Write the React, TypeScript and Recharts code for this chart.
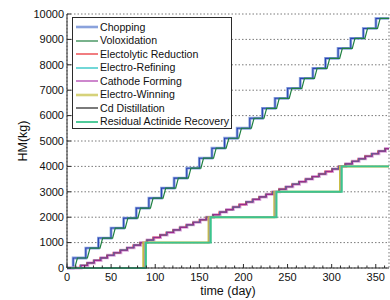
import { LineChart, Line, XAxis, YAxis, CartesianGrid, Legend } from 'recharts'

// batch times (day)
const chopDays = [7, 21.3, 35.6, 49.9, 64.2, 78.5, 92.8, 107.1, 121.4, 135.7, 150, 164.3, 178.6, 192.9, 207.2, 221.5, 235.8, 250.1, 264.4, 278.7, 293, 307.3, 321.6, 335.9, 350.2]
const voloxStartDays = [8.8, 23.1, 37.4, 51.7, 66, 80.3, 94.6, 108.9, 123.2, 137.5, 151.8, 166.1, 180.4, 194.7, 209, 223.3, 237.6, 251.9, 266.2, 280.5, 294.8, 309.1, 323.4, 337.7, 352]
const voloxEndDays = [11.8, 26.1, 40.4, 54.7, 69, 83.3, 97.6, 111.9, 126.2, 140.5, 154.8, 169.1, 183.4, 197.7, 212, 226.3, 240.6, 254.9, 269.2, 283.5, 297.8, 312.1, 326.4, 340.7, 355]
const headEndLevels = [393, 786, 1179, 1572, 1965, 2358, 2751, 3144, 3537, 3930, 4323, 4716, 5109, 5502, 5895, 6288, 6681, 7074, 7467, 7860, 8253, 8646, 9039, 9432, 9825]

const reductionDays = [15, 22.5, 30, 37.5, 45, 52.5, 60, 67.5, 75, 82.5, 90, 97.5, 105, 112.5, 120, 127.5, 135, 142.5, 150, 157.5, 165, 172.5, 180, 187.5, 195, 202.5, 210, 217.5, 225, 232.5, 240, 247.5, 255, 262.5, 270, 277.5, 285, 292.5, 300, 307.5, 315, 322.5, 330, 337.5, 345, 352.5, 360]
const refiningDays = [15.5, 23, 30.5, 38, 45.5, 53, 60.5, 68, 75.5, 83, 90.5, 98, 105.5, 113, 120.5, 128, 135.5, 143, 150.5, 158, 165.5, 173, 180.5, 188, 195.5, 203, 210.5, 218, 225.5, 233, 240.5, 248, 255.5, 263, 270.5, 278, 285.5, 293, 300.5, 308, 315.5, 323, 330.5, 338, 345.5, 353, 360.5]
const formingDays = [16, 23.5, 31, 38.5, 46, 53.5, 61, 68.5, 76, 83.5, 91, 98.5, 106, 113.5, 121, 128.5, 136, 143.5, 151, 158.5, 166, 173.5, 181, 188.5, 196, 203.5, 211, 218.5, 226, 233.5, 241, 248.5, 256, 263.5, 271, 278.5, 286, 293.5, 301, 308.5, 316, 323.5, 331, 338.5, 346, 353.5, 361]
const cathodeLevels = [100, 200, 300, 400, 500, 600, 700, 800, 900, 1000, 1100, 1200, 1300, 1400, 1500, 1600, 1700, 1800, 1900, 2000, 2100, 2200, 2300, 2400, 2500, 2600, 2700, 2800, 2900, 3000, 3100, 3200, 3300, 3400, 3500, 3600, 3700, 3800, 3900, 4000, 4100, 4200, 4300, 4400, 4500, 4600, 4700]

const winningDays = [86.5, 160.5, 235, 309.5]
const distillDays = [88, 161.5, 236, 310.5]
const recoveryDays = [89.5, 163, 237.5, 311.5]
const recoveryLevels = [1000, 2000, 3000, 4000]

const xMajorTicks = [0, 50, 100, 150, 200, 250, 300, 350]
const xAllTicks = [0, 10, 20, 30, 40, 50, 60, 70, 80, 90, 100, 110, 120, 130, 140, 150, 160, 170, 180, 190, 200, 210, 220, 230, 240, 250, 260, 270, 280, 290, 300, 310, 320, 330, 340, 350, 360]
const yTicks = [0, 1000, 2000, 3000, 4000, 5000, 6000, 7000, 8000, 9000, 10000]
const X_END = 365

const seriesNames = [
  'Chopping',
  'Voloxidation',
  'Electolytic Reduction',
  'Electro-Refining',
  'Cathode Forming',
  'Electro-Winning',
  'Cd Distillation',
  'Residual Actinide Recovery',
]

const FONT = '"Liberation Sans", Arial, Helvetica, sans-serif'
const AXIS_COLOR = '#2b2b2b'
const TEXT_COLOR = '#111'

const legendStyle: Record<string, { color: string; width: number }> = {
  Chopping: { color: '#8aa2dc', width: 2.6 },
  Voloxidation: { color: '#1f7f3f', width: 1.2 },
  'Electolytic Reduction': { color: '#e8262a', width: 1.2 },
  'Electro-Refining': { color: '#14bdbd', width: 1.2 },
  'Cathode Forming': { color: '#c87ac8', width: 1.8 },
  'Electro-Winning': { color: '#d6d27a', width: 2.6 },
  'Cd Distillation': { color: '#7a7a7a', width: 2 },
  'Residual Actinide Recovery': { color: '#3dc48f', width: 1.8 },
}

const stepSeries = (days: number[], levels: number[]) => [
  { t: 0, v: 0 },
  ...days.map((t, i) => ({ t, v: levels[i] })),
  { t: X_END, v: levels[levels.length - 1] },
]

const rampSeries = (starts: number[], ends: number[], levels: number[]) => {
  const pts = [{ t: 0, v: 0 }]
  starts.forEach((s, i) => {
    pts.push({ t: s, v: i ? levels[i - 1] : 0 })
    pts.push({ t: ends[i], v: levels[i] })
  })
  pts.push({ t: X_END, v: levels[levels.length - 1] })
  return pts
}

const chopData = stepSeries(chopDays, headEndLevels)
const voloxData = rampSeries(voloxStartDays, voloxEndDays, headEndLevels)
const reductionData = stepSeries(reductionDays, cathodeLevels)
const refiningData = stepSeries(refiningDays, cathodeLevels)
const formingData = stepSeries(formingDays, cathodeLevels)
const winningData = stepSeries(winningDays, recoveryLevels)
const distillData = stepSeries(distillDays, recoveryLevels)
const recoveryData = stepSeries(recoveryDays, recoveryLevels)

const tickText = { fontSize: 11, fontFamily: FONT, fill: TEXT_COLOR }

const BottomTick = ({ x, y, payload }: any) => {
  const major = xMajorTicks.includes(payload.value)
  return (
    <g>
      <line x1={x} x2={x} y1={y} y2={y - (major ? 4 : 2.5)} stroke={AXIS_COLOR} />
      {major && (
        <text x={x} y={y + 9} dy="0.35em" textAnchor="middle" {...tickText}>
          {payload.value}
        </text>
      )}
    </g>
  )
}

const TopTick = ({ x, y, payload }: any) => {
  const major = xMajorTicks.includes(payload.value)
  return <line x1={x} x2={x} y1={y} y2={y + (major ? 4 : 2.5)} stroke={AXIS_COLOR} />
}

const LeftTick = ({ x, y, payload }: any) => (
  <g>
    <line x1={x} x2={x + 4} y1={y} y2={y} stroke={AXIS_COLOR} />
    <text x={x - 3} y={y} dy="0.35em" textAnchor="end" {...tickText}>
      {payload.value}
    </text>
  </g>
)

const RightTick = ({ x, y }: any) => <line x1={x} x2={x - 4} y1={y} y2={y} stroke={AXIS_COLOR} />

const XTitle = ({ viewBox }: any) => {
  const cx = viewBox.x + viewBox.width / 2
  return (
    <text x={cx} y={viewBox.y + 23} dy="0.35em" textAnchor="middle" fontSize={12.5} fontFamily={FONT} fill={TEXT_COLOR}>
      time (day)
    </text>
  )
}

const YTitle = ({ viewBox }: any) => {
  const cx = viewBox.x + 23
  const cy = viewBox.y + viewBox.height / 2
  return (
    <text x={cx} y={cy} dy="0.35em" transform={`rotate(-90 ${cx} ${cy})`} textAnchor="middle" fontSize={12.5} fontFamily={FONT} fill={TEXT_COLOR}>
      HM(kg)
    </text>
  )
}

const LegendBox = () => (
  <div
    style={{
      boxSizing: 'border-box',
      width: 160,
      height: 112,
      border: `1px solid ${AXIS_COLOR}`,
      background: '#fff',
      padding: '2.5px 0 0 3px',
      fontFamily: FONT,
    }}
  >
    {seriesNames.map((name) => (
      <div key={name} style={{ display: 'flex', alignItems: 'center', height: 13.5 }}>
        <svg width={22} height={6} style={{ marginRight: 2, flex: 'none' }}>
          <line x1={0} x2={22} y1={3} y2={3} stroke={legendStyle[name].color} strokeWidth={legendStyle[name].width} />
        </svg>
        <span style={{ fontSize: 10.6, lineHeight: 1, color: TEXT_COLOR, whiteSpace: 'nowrap' }}>{name}</span>
      </div>
    ))}
  </div>
)

export default function App() {
  const common = { dataKey: 'v', dot: false, activeDot: false, isAnimationActive: false } as const
  return (
    <div style={{ position: 'absolute', left: 0, top: 0, background: '#fff' }}>
      <LineChart width={390} height={300} margin={{ top: 14, right: 1, bottom: 0, left: 0 }}>
        <XAxis xAxisId="grid" type="number" dataKey="t" domain={[0, X_END]} ticks={xMajorTicks} hide />
        <CartesianGrid xAxisId="grid" stroke="#7a7a7a" strokeDasharray="1.5 2" />
        <XAxis
          type="number"
          dataKey="t"
          domain={[0, X_END]}
          ticks={xAllTicks}
          interval={0}
          height={32}
          tickSize={0}
          tickMargin={0}
          tickLine={false}
          axisLine={{ stroke: AXIS_COLOR }}
          tick={BottomTick}
          label={{ content: XTitle }}
        />
        <XAxis
          xAxisId="top"
          orientation="top"
          type="number"
          dataKey="t"
          domain={[0, X_END]}
          ticks={xAllTicks}
          interval={0}
          height={0}
          tickSize={0}
          tickMargin={0}
          tickLine={false}
          axisLine={{ stroke: AXIS_COLOR }}
          tick={TopTick}
        />
        <YAxis
          type="number"
          domain={[0, 10000]}
          ticks={yTicks}
          interval={0}
          width={67}
          tickSize={0}
          tickMargin={0}
          tickLine={false}
          axisLine={{ stroke: AXIS_COLOR }}
          tick={LeftTick}
          label={{ content: YTitle }}
        />
        <YAxis
          yAxisId="right"
          orientation="right"
          type="number"
          domain={[0, 10000]}
          ticks={yTicks}
          interval={0}
          width={0}
          tickSize={0}
          tickMargin={0}
          tickLine={false}
          axisLine={{ stroke: AXIS_COLOR }}
          tick={RightTick}
        />

        <Line {...common} data={chopData} type="stepAfter" name="Chopping" stroke="#8ea6de" strokeWidth={2.8} />
        <Line {...common} data={chopData} type="stepAfter" name="Chopping core" legendType="none" stroke="#2a44b4" strokeWidth={1.1} />
        <Line {...common} data={voloxData} type="linear" name="Voloxidation" stroke="#1f8040" strokeWidth={1.2} />
        <Line {...common} data={formingData} type="stepAfter" name="Cathode Forming halo" legendType="none" stroke="#dba6db" strokeWidth={3} />
        <Line {...common} data={reductionData} type="stepAfter" name="Electolytic Reduction" stroke="#e8262a" strokeWidth={1.3} />
        <Line {...common} data={refiningData} type="stepAfter" name="Electro-Refining" stroke="#14a8b0" strokeWidth={1.2} />
        <Line {...common} data={formingData} type="stepAfter" name="Cathode Forming" stroke="#9a2c8c" strokeWidth={1.1} />
        <Line {...common} data={winningData} type="stepAfter" name="Electro-Winning" stroke="#c8bb40" strokeWidth={2} />
        <Line {...common} data={distillData} type="stepAfter" name="Cd Distillation" stroke="#a0a0a0" strokeWidth={1.4} />
        <Line {...common} data={recoveryData} type="stepAfter" name="Residual Actinide Recovery" stroke="#3cc48e" strokeWidth={1.9} />

        <Legend
          layout="vertical"
          align="center"
          verticalAlign="middle"
          content={LegendBox}
          wrapperStyle={{ left: 72, top: 17, width: 'auto', height: 'auto' }}
        />
      </LineChart>
    </div>
  )
}
